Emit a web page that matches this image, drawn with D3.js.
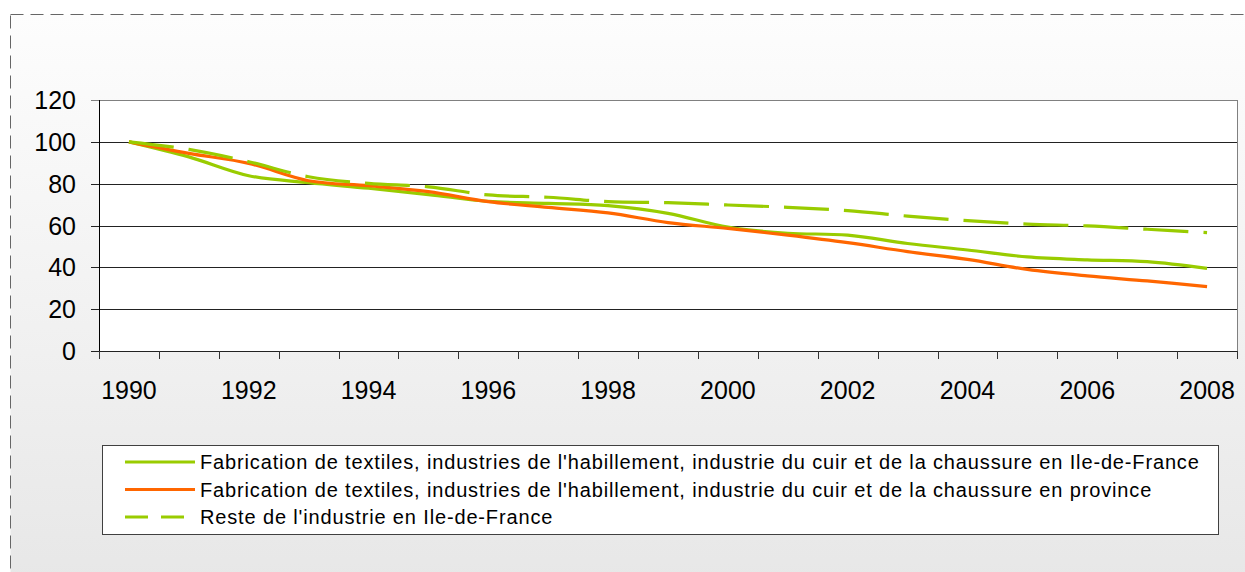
<!DOCTYPE html>
<html>
<head>
<meta charset="utf-8">
<script src="https://cdn.jsdelivr.net/npm/d3@7"></script>
<style>
  body { margin: 0; background: #fff; }
  svg { display: block; font-family: "Liberation Sans", Arial, sans-serif; }
</style>
</head>
<body>
<div id="chart"></div>
<script>
// data (index 1990 = 100)
var years = ["1990", "1991", "1992", "1993", "1994", "1995", "1996", "1997", "1998", "1999",
  "2000", "2001", "2002", "2003", "2004", "2005", "2006", "2007", "2008"];
var textileIdf = [100, 92.8, 83.8, 80.5, 77.8, 74.8, 71.5, 70.6, 69.5, 65.8,
  59.2, 56.3, 55.4, 51.4, 48.3, 45.0, 43.6, 42.7, 39.5];
var textileProvince = [100, 94.5, 89.7, 81.4, 79.0, 76.2, 71.4, 68.7, 66.0, 61.4,
  58.6, 55.4, 51.8, 47.5, 43.8, 39.0, 35.9, 33.5, 30.8];
var resteIdf = [100, 96.4, 90.5, 83.3, 80.1, 78.5, 74.6, 73.5, 71.4, 70.9,
  69.8, 68.7, 67.1, 64.5, 62.3, 60.7, 59.8, 58.2, 56.6];
var yTicks = [0, 20, 40, 60, 80, 100, 120];
var xLabels = ["1990", "1992", "1994", "1996", "1998", "2000", "2002", "2004", "2006", "2008"];

var seriesNames = [
  "Fabrication de textiles, industries de l'habillement, industrie du cuir et de la chaussure en Ile-de-France",
  "Fabrication de textiles, industries de l'habillement, industrie du cuir et de la chaussure en province",
  "Reste de l'industrie en Ile-de-France"
];

var width = 1245,
  height = 572,
  plotLeft = 99,
  plotRight = 1237,
  plotTop = 100,
  plotBottom = 351;

var green = "#99cc00",
  orange = "#ff6600";

var series = [
  { name: seriesNames[0], values: textileIdf, color: green, dash: null },
  { name: seriesNames[1], values: textileProvince, color: orange, dash: null },
  { name: seriesNames[2], values: resteIdf, color: green, dash: "45,15" }
];

var svg = d3.select("#chart")
  .append("svg")
  .attr("width", width)
  .attr("height", height);

var defs = svg.append("defs");
var grad = defs.append("linearGradient")
  .attr("id", "bg")
  .attr("x1", 0).attr("y1", 0)
  .attr("x2", 0).attr("y2", 1);
grad.append("stop").attr("offset", "0%").attr("stop-color", "#fdfdfd");
grad.append("stop").attr("offset", "100%").attr("stop-color", "#e7e7e7");

// chart area background + dashed frame
svg.append("rect")
  .attr("x", 10.5)
  .attr("y", 14.5)
  .attr("width", width)
  .attr("height", height)
  .attr("fill", "url(#bg)")
  .attr("stroke", "#666")
  .attr("stroke-width", 1)
  .attr("stroke-dasharray", "13,7");

var x = d3.scaleBand()
  .domain(years)
  .range([plotLeft, plotRight])
  .padding(0);

var y = d3.scaleLinear()
  .domain([0, 120])
  .range([plotBottom, plotTop]);

function xc(d) {
  return x(d) + x.bandwidth() / 2;
}

// plot area
svg.append("rect")
  .attr("x", plotLeft)
  .attr("y", plotTop)
  .attr("width", plotRight - plotLeft)
  .attr("height", plotBottom - plotTop)
  .attr("fill", "#fff");

// gridlines
svg.selectAll(".grid")
  .data(yTicks)
  .enter()
  .append("line")
  .attr("class", "grid")
  .attr("x1", plotLeft - 8)
  .attr("x2", plotRight)
  .attr("y1", function(d) { return Math.round(y(d)) + 0.5; })
  .attr("y2", function(d) { return Math.round(y(d)) + 0.5; })
  .attr("stroke", function(d) { return d === 120 ? "#808080" : "#222"; })
  .attr("stroke-width", 1);

// right border of plot
svg.append("line")
  .attr("x1", plotRight + 0.5)
  .attr("x2", plotRight + 0.5)
  .attr("y1", plotTop)
  .attr("y2", plotBottom + 8)
  .attr("stroke", "#808080");

// y axis line
svg.append("line")
  .attr("x1", plotLeft + 0.5)
  .attr("x2", plotLeft + 0.5)
  .attr("y1", plotTop)
  .attr("y2", plotBottom + 8)
  .attr("stroke", "#000");

// x tick marks at category boundaries
var boundaries = years.map(function(d) { return x(d); }).concat([plotRight]);
svg.selectAll(".xtick")
  .data(boundaries)
  .enter()
  .append("line")
  .attr("class", "xtick")
  .attr("x1", function(d) { return Math.round(d) + 0.5; })
  .attr("x2", function(d) { return Math.round(d) + 0.5; })
  .attr("y1", plotBottom)
  .attr("y2", plotBottom + 8)
  .attr("stroke", "#333");

// y labels
svg.selectAll(".ylabel")
  .data(yTicks)
  .enter()
  .append("text")
  .attr("class", "ylabel")
  .attr("x", 76)
  .attr("y", function(d) { return y(d); })
  .attr("dy", "0.36em")
  .attr("text-anchor", "end")
  .style("font-size", "25px")
  .text(function(d) { return d; });

// x labels
svg.selectAll(".xlabel")
  .data(xLabels)
  .enter()
  .append("text")
  .attr("class", "xlabel")
  .attr("x", function(d) { return xc(d); })
  .attr("y", 399)
  .attr("text-anchor", "middle")
  .style("font-size", "25px")
  .text(function(d) { return d; });

// lines
var line = d3.line()
  .x(function(d, i) { return xc(years[i]); })
  .y(function(d) { return y(d); })
  .curve(d3.curveCatmullRom.alpha(0.5));

svg.selectAll(".series")
  .data(series)
  .enter()
  .append("path")
  .attr("class", "series")
  .attr("d", function(d) { return line(d.values); })
  .attr("fill", "none")
  .attr("stroke", function(d) { return d.color; })
  .attr("stroke-width", 3.2)
  .attr("stroke-dasharray", function(d) { return d.dash; });

// legend
var legend = svg.append("g");
legend.append("rect")
  .attr("x", 102.5)
  .attr("y", 445.5)
  .attr("width", 1116)
  .attr("height", 89)
  .attr("fill", "#fff")
  .attr("stroke", "#404040");

var rows = legend.selectAll(".row")
  .data(series)
  .enter()
  .append("g")
  .attr("class", "row")
  .attr("transform", function(d, i) { return "translate(0," + (462 + i * 27.5) + ")"; });

rows.append("line")
  .attr("x1", 125)
  .attr("x2", 195)
  .attr("y1", 0)
  .attr("y2", 0)
  .attr("stroke", function(d) { return d.color; })
  .attr("stroke-width", 3)
  .attr("stroke-dasharray", function(d) { return d.dash ? "23,13" : null; });

rows.append("text")
  .attr("x", 200)
  .attr("y", 0)
  .attr("dy", "0.36em")
  .style("font-size", "20px")
  .style("letter-spacing", "0.85px")
  .text(function(d) { return d.name; });
</script>
</body>
</html>
